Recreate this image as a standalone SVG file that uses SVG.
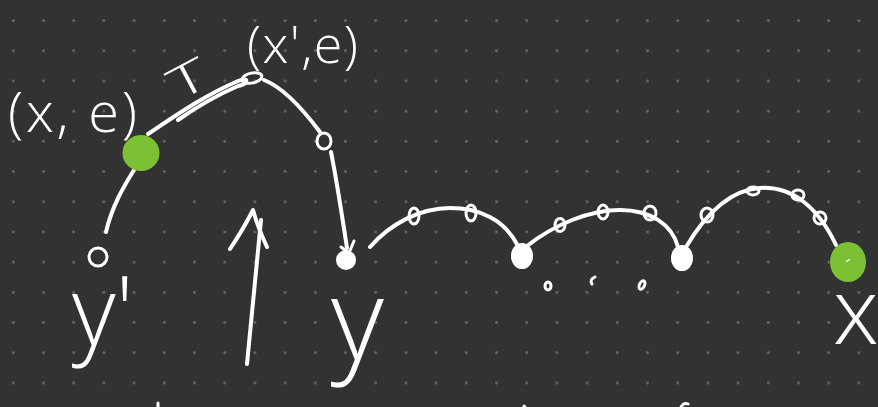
<svg xmlns="http://www.w3.org/2000/svg" width="878" height="407" viewBox="0 0 878 407">
<defs>
<pattern id="grid" patternUnits="userSpaceOnUse" x="-1.8" y="5.5" width="30.2" height="30.2">
<circle cx="15.1" cy="15.1" r="1.4" fill="#6a6a6a"/>
</pattern>
<style>
.ln{fill:none;stroke:#ffffff;stroke-width:4;stroke-linecap:round;stroke-linejoin:round}
.th{fill:none;stroke:#ffffff;stroke-width:3;stroke-linecap:round}
.ring{fill:none;stroke:#ffffff;stroke-width:3}
.big{fill:#ffffff;stroke:#ffffff;stroke-width:2}
.green{fill:#7bc133}
.lbl{fill:#ffffff;font-family:"Open Sans","Liberation Sans",sans-serif;font-weight:300}
</style>
</defs>
<rect width="878" height="407" fill="#323232"/>
<rect width="878" height="407" fill="url(#grid)"/>

<g id="connectors">
<path class="ln" d="M148,134 C175,116 205,95 238,81 C250,76 248,84 238,86 C215,96 198,106 178,120"/>
<path class="ln" d="M264,80 C285,88 305,112 320,132"/>
<path class="ln" d="M331,152 C335,172 342,215 347,248"/>
<path class="ln" d="M134,170 C124,186 112,206 106,232"/>
<path class="ln" d="M370,247 C390,224 420,208 450,208 C480,208 505,220 518,246"/>
<path class="ln" d="M527,246 C555,224 590,210 620,210 C650,210 672,224 678,247"/>
<path class="ln" d="M686,247 C705,215 730,190 760,188 C792,186 818,207 836,245"/>
<path class="ln" d="M247,364 L261,220"/>
<path class="ln" d="M230,249 Q244,228 253,210 Q258,228 267,247"/>
</g>

<g id="node-xe">
<ellipse class="green" cx="141" cy="153" rx="18.5" ry="18"/>
<text class="lbl" x="8" y="132" font-size="56" textLength="129" lengthAdjust="spacing">(x, e)</text>
</g>

<g id="node-T">
<text class="lbl" x="0" y="0" font-size="44" transform="translate(178,102) rotate(-28) scale(1.7,1)">T</text>
</g>

<g id="node-xpe">
<ellipse class="ring" cx="252" cy="78" rx="10" ry="5" transform="rotate(-12 252 78)"/>
<text class="lbl" x="247" y="63" font-size="52" textLength="111" lengthAdjust="spacing">(x',e)</text>
</g>

<g id="node-o1">
<ellipse class="ring" cx="324" cy="141" rx="7" ry="8"/>
</g>

<g id="node-yp">
<circle class="ring" cx="98" cy="257" r="9" stroke-width="4"/>
<text class="lbl" x="72" y="345" font-size="95">y'</text>
</g>

<g id="node-y">
<circle class="big" cx="346" cy="260" r="9"/>
<path class="th" d="M341,247 L349,253 L354,241"/>
<text class="lbl" x="331" y="360" font-size="115">y</text>
</g>

<g id="chain">
<ellipse class="ring" cx="414" cy="216" rx="5" ry="8"/>
<ellipse class="ring" cx="471" cy="213" rx="5" ry="8"/>
<ellipse class="big" cx="522" cy="256" rx="10" ry="12"/>
<ellipse class="ring" cx="560" cy="225" rx="5" ry="6.5"/>
<ellipse class="ring" cx="603" cy="212" rx="5" ry="7"/>
<ellipse class="ring" cx="650" cy="213" rx="6" ry="7"/>
<ellipse class="big" cx="682" cy="258" rx="10" ry="12"/>
<ellipse class="ring" cx="707" cy="215" rx="6" ry="7"/>
<ellipse class="ring" cx="753" cy="191" rx="6" ry="4"/>
<ellipse class="ring" cx="798" cy="195" rx="6" ry="5"/>
<ellipse class="ring" cx="820" cy="218" rx="6" ry="6"/>
</g>

<g id="ellipsis">
<ellipse class="th" cx="548" cy="286" rx="3" ry="4"/>
<path class="th" d="M595,277 Q589,280 592,284"/>
<ellipse class="th" cx="642" cy="285" rx="2.5" ry="4.5" transform="rotate(25 642 285)"/>
</g>

<g id="node-x">
<ellipse class="green" cx="848" cy="262" rx="18" ry="20"/>
<path d="M846,262 L850,259" stroke="#ffffff" stroke-width="1.5"/>
<text class="lbl" x="833" y="344" font-size="92">x</text>
</g>

<g id="fragments">
<path class="th" d="M158,403 L158,407"/>
<path class="th" d="M524,406 L525,407"/>
<path class="th" d="M681,407 Q684,402 688,404"/>
</g>
</svg>
